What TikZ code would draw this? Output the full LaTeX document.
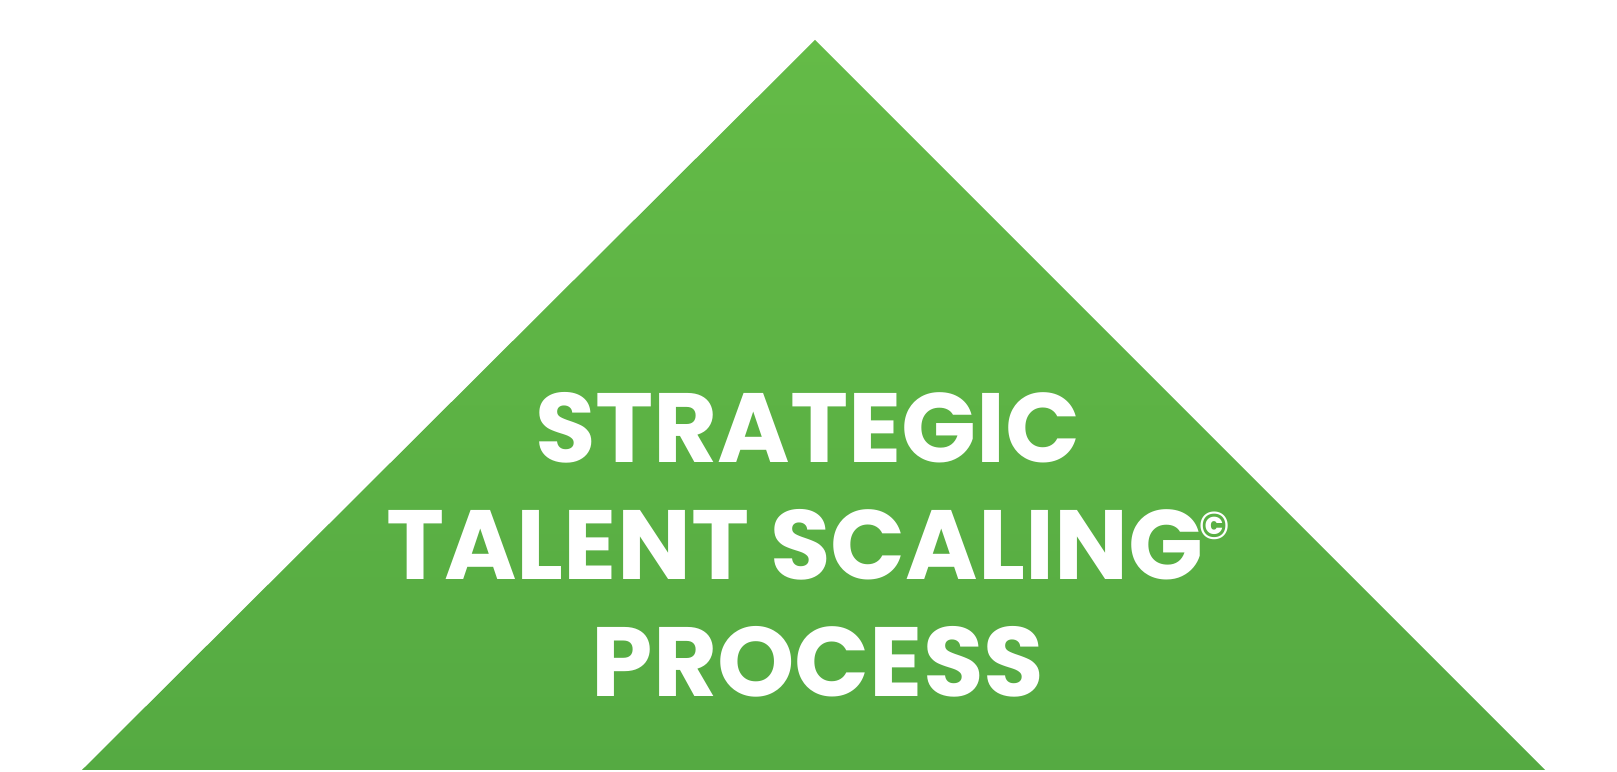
\documentclass[tikz,border=0pt]{standalone}
\usepackage{fontspec}
\newfontfamily\poppins{Poppins}
\usetikzlibrary{positioning}
\definecolor{greentop}{HTML}{64BB47}
\definecolor{greenbot}{HTML}{55AA42}

\begin{document}
\begin{tikzpicture}[x=1cm,y=1cm,
    title/.style={anchor=base, text=white, inner sep=0pt, font=\poppins\bfseries\fontsize{28}{34}\selectfont}]
    \useasboundingbox (0,0) rectangle (16.17,7.72);
    \coordinate (top) at (8.15,7.32);
    \coordinate (bl) at (0.82,0.02);
    \coordinate (br) at (15.45,0.02);

    \shade[top color=greentop, bottom color=greenbot] (top) -- (br) -- (bl) -- cycle;

    \node[title] (l1) at (8.08,3.09) {STRATEGIC};
    \node[title] (l2) at (8.08,1.92) {TALENT SCALING\kern-1pt\raisebox{11.5pt}{\fontsize{11}{11}\selectfont\textcopyright}};
    \node[title] (l3) at (8.18,0.75) {PROCESS};
\end{tikzpicture}
\end{document}
